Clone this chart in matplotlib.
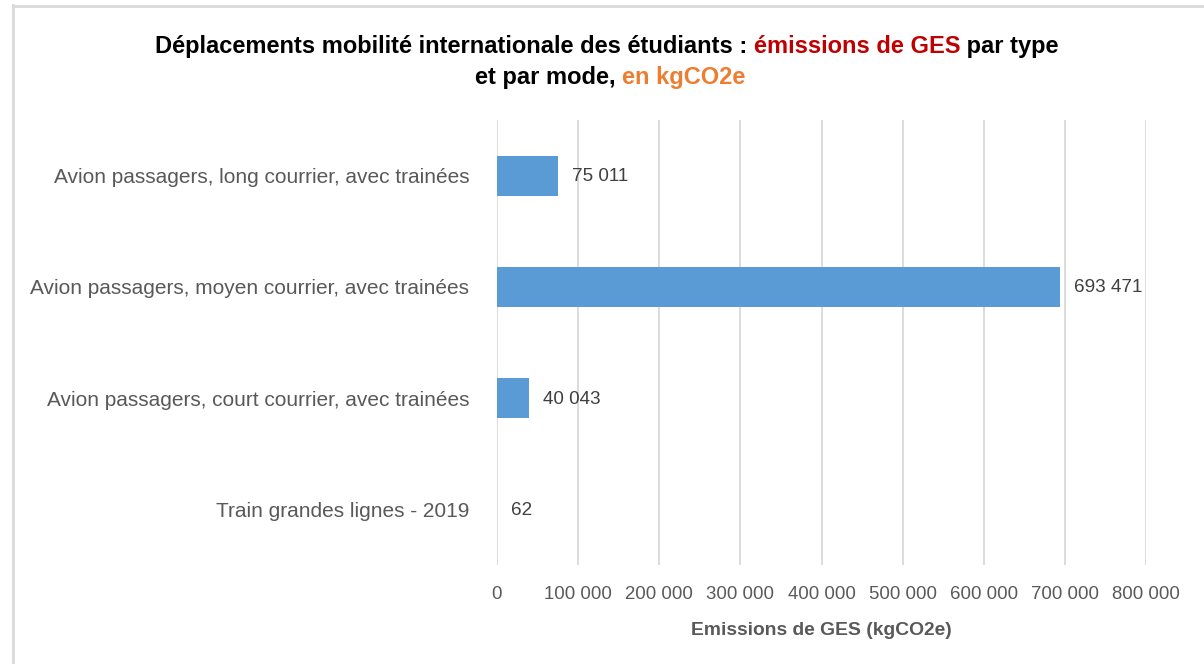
import matplotlib
matplotlib.use('Agg')
import matplotlib.pyplot as plt
from matplotlib.lines import Line2D

plt.rcParams['font.family'] = ['Liberation Sans', 'DejaVu Sans']

categories = ['Train grandes lignes - 2019',
              'Avion passagers, court courrier, avec trainées',
              'Avion passagers, moyen courrier, avec trainées',
              'Avion passagers, long courrier, avec trainées']
emissions = [62, 40043, 693471, 75011]
xticks = [0, 100000, 200000, 300000, 400000, 500000, 600000, 700000, 800000]

def fmt(v):
    return '{:,}'.format(int(v)).replace(',', ' ')

fig = plt.figure(figsize=(12.04, 6.64), dpi=100)
W, H = 1204, 664
ax = fig.add_axes([497 / W, 1 - 565 / H, (1146 - 497) / W, (565 - 120) / H])

y = range(len(categories))
ax.barh(y, emissions, height=0.36, color='#5B9BD5', zorder=3)
ax.set_xlim(0, 800000)
ax.set_ylim(-0.5, len(categories) - 0.5)
ax.set_xticks(xticks)
ax.set_xticklabels([fmt(t) for t in xticks])
ax.set_yticks(list(y))
ax.set_yticklabels(categories)
ax.tick_params(axis='x', length=0, pad=15, labelsize=13.4, labelcolor='#595959')
ax.tick_params(axis='y', length=0, pad=20, labelsize=15, labelcolor='#595959')
ax.grid(axis='x', color='#d9d9d9', linewidth=1.3, zorder=0)
for s in ax.spines.values():
    s.set_visible(False)

for yi, v in zip(y, emissions):
    ax.annotate(fmt(v), (v, yi), xytext=(14, -1), textcoords='offset pixels',
                va='center', ha='left', fontsize=13.6, color='#404040')

ax.set_xlabel('Emissions de GES (kgCO2e)', fontsize=13.9, fontweight='bold',
              color='#595959', labelpad=14)

# title in coloured pieces, aligned on the baseline
renderer = fig.canvas.get_renderer()

def colored_line(parts, cx, base_y, size=17):
    texts = []
    for s, c in parts:
        t = fig.text(0, base_y, s, color=c, fontsize=size, fontweight='bold',
                     va='baseline', ha='left')
        texts.append(t)
    widths = [t.get_window_extent(renderer).width for t in texts]
    x = cx * W - sum(widths) / 2
    for t, w in zip(texts, widths):
        t.set_x(x / W)
        x += w

colored_line([('Déplacements mobilité internationale des étudiants : ', 'black'),
              ('émissions de GES', '#C00000'),
              (' par type', 'black')], 607 / W, 1 - 53 / H)
colored_line([('et par mode, ', 'black'),
              ('en kgCO2e', '#ED7D31')], 610 / W, 1 - 84 / H)

# chart frame
fig.add_artist(Line2D([13 / W, 13 / W], [0, 1 - 5 / H], color='#d9d9d9', lw=2))
fig.add_artist(Line2D([13 / W, 1], [1 - 6 / H, 1 - 6 / H], color='#d9d9d9', lw=2))

fig.savefig('out.png', dpi=100)
